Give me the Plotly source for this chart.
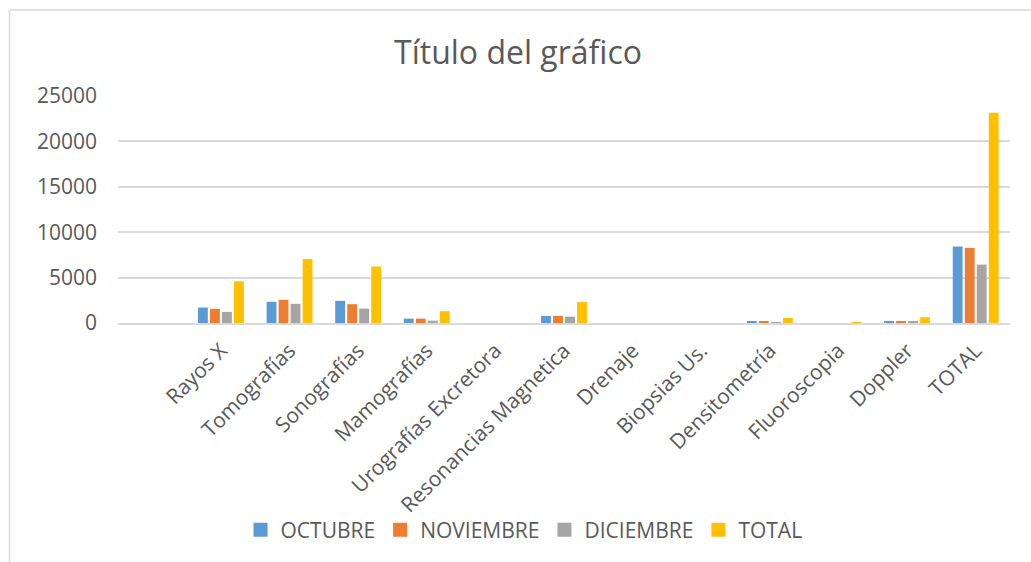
import plotly.graph_objects as go

categories = [" ", "Rayos X", "Tomografías", "Sonografías", "Mamografías",
              "Urografías Excretora", "Resonancias Magnetica", "Drenaje",
              "Biopsias Us.", "Densitometría", "Fluoroscopia", "Doppler", "TOTAL"]

octubre = [None, 1700, 2330, 2440, 480, 0, 780, 0, 0, 150, 0, 150, 8420]
noviembre = [None, 1560, 2560, 2070, 480, 0, 780, 0, 0, 220, 0, 150, 8270]
diciembre = [None, 1220, 2110, 1590, 260, 0, 700, 0, 0, 40, 0, 130, 6430]
total = [None, 4590, 7040, 6220, 1300, 0, 2300, 0, 0, 550, 20, 630, 23160]

series_names = ["OCTUBRE", "NOVIEMBRE", "DICIEMBRE", "TOTAL"]
series_values = [octubre, noviembre, diciembre, total]
colors = ["#5B9BD5", "#ED7D31", "#A5A5A5", "#FFC000"]

y_ticks = [0, 5000, 10000, 15000, 20000, 25000]

FONT = "Open Sans, Lato, DejaVu Sans, sans-serif"
TXT = "#595959"

fig = go.Figure()
for name, vals, col in zip(series_names, series_values, colors):
    fig.add_trace(go.Bar(x=categories, y=vals, name=name, showlegend=False,
                         marker=dict(color=col, line=dict(width=0))))
# legend proxies (square swatches like the original)
for name, col in zip(series_names, colors):
    fig.add_trace(go.Scatter(x=[None], y=[None], mode="markers", name=name,
                             marker=dict(symbol="square", size=14, color=col),
                             showlegend=True))

W, H = 1031, 562
L, R, T, B = 118, 21, 96, 239
pw, ph = W - L - R, H - T - B

def px_x(px):
    return (px - L) / pw

def px_y(py):
    return (H - B - py) / ph

fig.update_layout(
    width=W, height=H,
    margin=dict(l=L, r=R, t=T, b=B, autoexpand=False),
    paper_bgcolor="white", plot_bgcolor="white",
    font=dict(family=FONT, color=TXT, size=20),
    title=dict(text="Título del gráfico", x=518 / W, xref="container", xanchor="center",
               y=1 - 53 / H, yref="container", yanchor="middle",
               font=dict(family=FONT, size=32, color=TXT)),
    barmode="group", bargap=0.30, bargroupgap=0.18,
    showlegend=True,
    legend=dict(orientation="h", x=px_x(524), xanchor="center", y=px_y(530), yanchor="middle",
                font=dict(family=FONT, size=21, color=TXT), itemwidth=30,
                traceorder="normal", bgcolor="rgba(0,0,0,0)"),
    xaxis=dict(type="category", categoryorder="array", categoryarray=categories,
               tickangle=-45, showgrid=False, showline=True, linecolor="#d9d9d9",
               linewidth=2, ticks="", ticklabelstandoff=5,
               tickfont=dict(family=FONT, size=21, color=TXT),
               fixedrange=True),
    yaxis=dict(range=[0, 25000], tickvals=y_ticks, ticktext=[str(v) for v in y_ticks],
               showgrid=True, gridcolor="#d9d9d9", gridwidth=2, zeroline=False,
               showline=False, ticks="", ticklabelstandoff=20,
               tickfont=dict(family=FONT, size=21, color=TXT), fixedrange=True),
    shapes=[
        dict(type="line", xref="paper", yref="paper", x0=px_x(9.5), x1=px_x(1040),
             y0=px_y(10), y1=px_y(10), line=dict(color="#d9d9d9", width=1.5)),
        dict(type="line", xref="paper", yref="paper", x0=px_x(9.5), x1=px_x(9.5),
             y0=px_y(10), y1=px_y(575), line=dict(color="#d9d9d9", width=1.5)),
    ],
)

fig.write_html("out.html", config={"displayModeBar": False},
               post_script="document.body.style.margin='0';document.body.style.overflow='hidden';")
